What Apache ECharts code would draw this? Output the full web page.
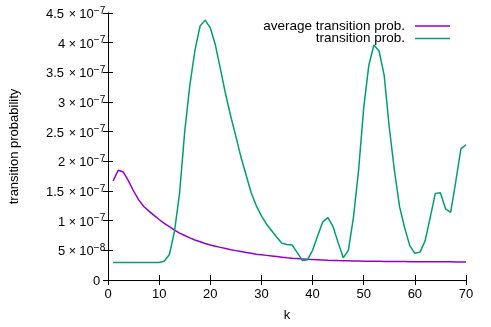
<!DOCTYPE html>
<html>
<head>
<meta charset="utf-8">
<script src="https://cdn.jsdelivr.net/npm/echarts@6/dist/echarts.min.js"></script>
<style>
html,body{margin:0;padding:0;background:#fff;}
#chart{width:491px;height:327px;}
</style>
</head>
<body>
<div id="chart"></div>
<script>
// k values (x axis)
const kValues = [1,2,3,4,5,6,7,8,9,10,11,12,13,14,15,16,17,18,19,20,
  21,22,23,24,25,26,27,28,29,30,31,32,33,34,35,36,37,38,39,40,
  41,42,43,44,45,46,47,48,49,50,51,52,53,54,55,56,57,58,59,60,
  61,62,63,64,65,66,67,68,69,70];

// values in units of 1e-7
const avgProb = [1.67,1.85,1.82,1.67,1.50,1.35,1.24,1.16,1.09,1.02,
  0.955,0.90,0.84,0.79,0.75,0.71,0.675,0.645,0.615,0.59,
  0.57,0.55,0.53,0.51,0.495,0.48,0.465,0.45,0.435,0.425,
  0.415,0.405,0.395,0.385,0.375,0.368,0.362,0.356,0.35,0.345,
  0.341,0.337,0.333,0.33,0.327,0.325,0.323,0.321,0.319,0.317,
  0.316,0.315,0.314,0.313,0.312,0.311,0.310,0.310,0.309,0.309,
  0.308,0.308,0.307,0.307,0.306,0.306,0.306,0.305,0.305,0.305];

const transProb = [0.295,0.295,0.295,0.295,0.295,0.295,0.295,0.295,0.295,0.295,
  0.315,0.43,0.82,1.47,2.5,3.28,3.87,4.28,4.38,4.25,
  3.96,3.55,3.13,2.76,2.42,2.07,1.77,1.47,1.25,1.08,
  0.94,0.83,0.72,0.62,0.60,0.59,0.46,0.33,0.34,0.50,
  0.745,0.98,1.05,0.90,0.63,0.375,0.50,1.06,1.85,2.90,
  3.62,3.96,3.86,3.45,2.57,1.85,1.24,0.88,0.58,0.45,
  0.47,0.66,1.05,1.46,1.47,1.20,1.14,1.66,2.21,2.28];

const xTicks = [0,10,20,30,40,50,60,70];
const yTickMantissa = ['0','5','1','1.5','2','2.5','3','3.5','4','4.5'];
const yTickExp = ['', '−8','−7','−7','−7','−7','−7','−7','−7','−7'];

const seriesNames = ['average transition prob.', 'transition prob.'];
const colors = ['#9400d3', '#009e73'];

const FONT = "Liberation Sans";

function yLabel(v) {
  const idx = Math.round(v / 0.5);
  if (idx === 0) return '{z|0}';
  const mant = yTickMantissa[idx];
  const style = mant.length > 1 ? 'w' : 'n';
  return '{' + style + '|' + mant + '}{x|×}{t|10}{e|' + yTickExp[idx] + '}';
}

const chart = echarts.init(document.getElementById('chart'), null, {renderer: 'canvas'});

const axisLineStyle = {color: '#000', width: 1};
const tickStyle = {show: true, inside: true, length: 5, lineStyle: {color: '#000', width: 1}};
const digit = {fontFamily: FONT, fontSize: 13, color: '#000', lineHeight: 14, padding: [3, 0, 0, 0]};

chart.setOption({
  animation: false,
  backgroundColor: '#fff',
  textStyle: {fontFamily: FONT},
  grid: {left: 107, right: 25, top: 13, bottom: 42, containLabel: false},
  legend: {
    orient: 'vertical',
    right: 36,
    top: 14,
    align: 'right',
    icon: 'rect',
    itemWidth: 35,
    itemHeight: 1.5,
    itemGap: -1.5,
    textStyle: {fontFamily: FONT, fontSize: 13.5, color: '#000', lineHeight: 13, padding: [0, 5, 0, 0]},
    data: seriesNames
  },
  xAxis: [{
    type: 'value',
    min: 0, max: 70, interval: 10,
    name: 'k',
    nameLocation: 'middle',
    nameGap: 29,
    nameTextStyle: {fontFamily: FONT, fontSize: 13, color: '#000'},
    axisLine: {show: true, lineStyle: axisLineStyle},
    axisTick: tickStyle,
    axisLabel: {fontFamily: FONT, fontSize: 13, color: '#000', margin: 8},
    splitLine: {show: false}
  }, {
    type: 'value',
    position: 'top',
    min: 0, max: 70, interval: 10,
    axisLine: {show: true, lineStyle: axisLineStyle},
    axisTick: tickStyle,
    axisLabel: {show: false},
    splitLine: {show: false}
  }],
  yAxis: [{
    type: 'value',
    min: 0, max: 4.5, interval: 0.5,
    name: 'transition probability',
    nameLocation: 'middle',
    nameGap: 87,
    nameRotate: 90,
    nameTextStyle: {fontFamily: FONT, fontSize: 13, color: '#000'},
    axisLine: {show: true, lineStyle: axisLineStyle},
    axisTick: tickStyle,
    axisLabel: {
      formatter: yLabel,
      margin: 3,
      color: '#000',
      fontFamily: FONT,
      fontSize: 13,
      rich: {
        z: Object.assign({}, digit, {width: 12, align: 'left'}),
        n: Object.assign({}, digit, {width: 8, align: 'left'}),
        w: Object.assign({}, digit, {width: 20, align: 'left'}),
        x: {fontFamily: FONT, fontSize: 12.5, color: '#000', lineHeight: 14, padding: [3, 0, 0, 0], width: 13, align: 'center'},
        t: Object.assign({}, digit, {width: 15, align: 'left'}),
        e: {fontFamily: FONT, fontSize: 10, color: '#000', lineHeight: 10, padding: [0, 0, 4, 0], width: 11, align: 'left'}
      }
    },
    splitLine: {show: false}
  }, {
    type: 'value',
    position: 'right',
    min: 0, max: 4.5, interval: 0.5,
    axisLine: {show: true, lineStyle: axisLineStyle},
    axisTick: tickStyle,
    axisLabel: {show: false},
    splitLine: {show: false}
  }],
  series: [{
    name: seriesNames[0],
    type: 'line',
    xAxisIndex: 0, yAxisIndex: 0,
    data: kValues.map((k, i) => [k, avgProb[i]]),
    symbol: 'none',
    lineStyle: {color: colors[0], width: 1.5},
    itemStyle: {color: colors[0]}
  }, {
    name: seriesNames[1],
    type: 'line',
    xAxisIndex: 0, yAxisIndex: 0,
    data: kValues.map((k, i) => [k, transProb[i]]),
    symbol: 'none',
    lineStyle: {color: colors[1], width: 1.5},
    itemStyle: {color: colors[1]}
  }]
});
</script>
</body>
</html>
